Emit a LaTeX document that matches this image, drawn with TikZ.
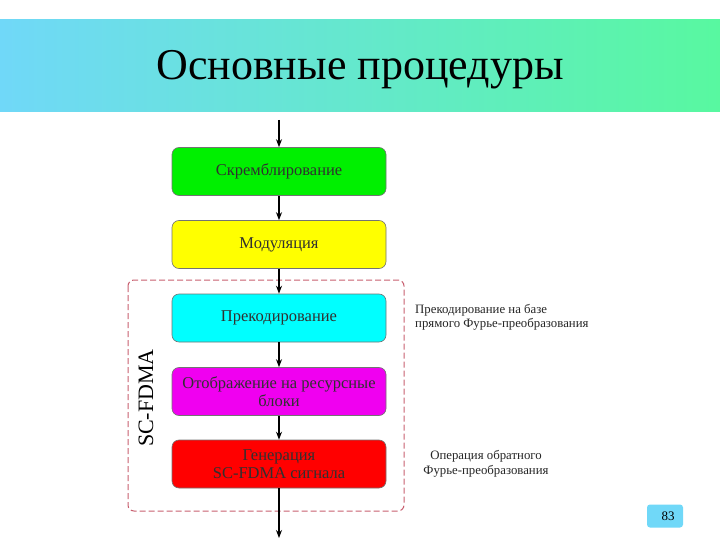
\documentclass[tikz,border=0pt]{standalone}
\usepackage{fontspec}
\setmainfont{Liberation Serif}
\usetikzlibrary{arrows.meta}
\definecolor{bandL}{HTML}{70D8F8}
\definecolor{bandR}{HTML}{58F8A0}
\definecolor{dashc}{HTML}{C86070}
\definecolor{boxtext}{HTML}{303030}
\tikzset{
  procbox/.style={draw=black!55, line width=0.6pt, rounded corners=7pt, minimum width=214pt, minimum height=48pt, align=center, font=\fontsize{16.5}{18.5}\selectfont, text=boxtext, inner sep=0pt},
  flow/.style={-{Stealth[length=8pt,width=6pt]}, line width=1.2pt},
  note/.style={align=left, font=\fontsize{12.8}{14.5}\selectfont, text=black!85, inner sep=0pt}
}
\begin{document}
\begin{tikzpicture}[x=1pt,y=-1pt]
\useasboundingbox (0,0) rectangle (720,540);
\fill[white] (0,0) rectangle (720,540);
\shade[left color=bandL, right color=bandR] (0,20) rectangle (720,112);
\node[font=\fontsize{44}{48}\selectfont] (title) at (360,70) {Основные процедуры};
\draw[dashc, dashed, line width=1pt, dash pattern=on 6pt off 3pt, rounded corners=6pt] (128,280) rectangle (404,511);
\node[procbox, fill={rgb,255:red,0;green,240;blue,0}] (b1) at (279,171.5) {Скремблирование};
\node[procbox, fill={rgb,255:red,255;green,255;blue,0}] (b2) at (279,244.5) {Модуляция};
\node[procbox, fill={rgb,255:red,0;green,255;blue,255}] (b3) at (279,318) {Прекодирование};
\node[procbox, fill={rgb,255:red,240;green,0;blue,240}] (b4) at (279,391.5) {Отображение на ресурсные\\блоки};
\node[procbox, fill={rgb,255:red,255;green,0;blue,0}] (b5) at (279,464) {Генерация\\SC-FDMA сигнала};
\coordinate (in) at (279,120);
\coordinate (out) at (279,538);
\draw[flow] (in) -- (b1);
\draw[flow] (b1) -- (b2);
\draw[flow] (b2) -- (b3);
\draw[flow] (b3) -- (b4);
\draw[flow] (b4) -- (b5);
\draw[flow] (b5) -- (out);
\node[rotate=90, font=\fontsize{22}{24}\selectfont] (sc) at (146,398) {SC-FDMA};
\node[note, anchor=north west] (n1) at (415,304) {Прекодирование на базе\\прямого Фурье-преобразования};
\node[note, align=center] (n2) at (486,464) {Операция обратного\\Фурье-преобразования};
\node[fill=bandL, rounded corners=3pt, minimum width=36pt, minimum height=23pt, font=\fontsize{13}{15}\selectfont] (pg) at (665,516) {\hspace{6pt}83};
\end{tikzpicture}
\end{document}
